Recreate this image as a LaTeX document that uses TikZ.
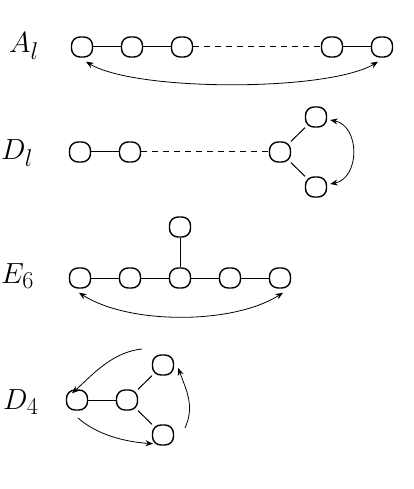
\documentclass[tikz,border=0pt]{standalone}
\usepackage{graphicx}
\usetikzlibrary{arrows.meta}
\newcommand{\biglab}[1]{\scalebox{1.17}{\fontsize{24.88}{28}\selectfont$#1$}}
\begin{document}
\begin{tikzpicture}[x=1pt,y=-1pt,
  dn/.style={draw,line width=1.4pt,rounded corners=8.5pt,minimum width=21pt,minimum height=20pt,inner sep=0pt,fill=white},
  ed/.style={line width=1pt},
  dsh/.style={line width=1pt,dash pattern=on 6pt off 5pt},
  arr/.style={line width=0.8pt,{Stealth[length=7.5pt,width=6pt]}-{Stealth[length=7.5pt,width=6pt]}},
  arrone/.style={line width=0.8pt,-{Stealth[length=7.5pt,width=6pt]}},
  lab/.style={anchor=base west,inner sep=0pt}]
\useasboundingbox (0,0) rectangle (414,489);
% A_l
\node[lab] (la) at (9,53) {\biglab{A_l}};
\node[dn] (a1) at (82,47) {};
\node[dn] (a2) at (132,47) {};
\node[dn] (a3) at (182,47) {};
\node[dn] (a4) at (332,47) {};
\node[dn] (a5) at (382,47) {};
\draw[ed] (a1) -- (a2);
\draw[ed] (a2) -- (a3);
\draw[dsh] (a3) -- (a4);
\draw[ed] (a4) -- (a5);
\draw[arr] ([xshift=4pt,yshift=-4pt]a1.south) .. controls +(50,30) and +(-50,30) .. ([xshift=-4pt,yshift=-4pt]a5.south);
% D_l
\node[lab] (ld) at (1,160) {\biglab{D_l}};
\node[dn] (d1) at (80,152) {};
\node[dn] (d2) at (130,152) {};
\node[dn] (d3) at (280,152) {};
\node[dn] (d4) at (316,117) {};
\node[dn] (d5) at (316,187) {};
\draw[ed] (d1) -- (d2);
\draw[dsh] (d2) -- (d3);
\draw[ed] (d3) -- (d4);
\draw[ed] (d3) -- (d5);
\draw[arr] ([xshift=3pt,yshift=-3pt]d4.east) .. controls +(30,6) and +(30,-6) .. ([xshift=3pt,yshift=3pt]d5.east);
% E_6
\node[lab] (le) at (1,283) {\biglab{E_6}};
\node[dn] (e1) at (80,278) {};
\node[dn] (e2) at (130,278) {};
\node[dn] (e3) at (180,278) {};
\node[dn] (e4) at (230,278) {};
\node[dn] (e5) at (280,278) {};
\node[dn] (e6) at (180,227) {};
\draw[ed] (e1) -- (e2);
\draw[ed] (e2) -- (e3);
\draw[ed] (e3) -- (e4);
\draw[ed] (e4) -- (e5);
\draw[ed] (e3) -- (e6);
\draw[arr] ([xshift=-1pt,yshift=-4pt]e1.south) .. controls +(50,32) and +(-50,32) .. ([xshift=3pt,yshift=-4pt]e5.south);
% D_4
\node[lab] (l4) at (3,409) {\biglab{D_4}};
\node[dn] (f1) at (77,400) {};
\node[dn] (f2) at (127,400) {};
\node[dn] (f3) at (163,365) {};
\node[dn] (f4) at (163,435) {};
\draw[ed] (f1) -- (f2);
\draw[ed] (f2) -- (f3);
\draw[ed] (f2) -- (f4);
\coordinate (s1) at (142,349);
\coordinate (s2) at (78,418);
\coordinate (s3) at (185,428);
\draw[arrone] (s1) .. controls +(-30,3) and +(20,-18) .. ([xshift=-5pt,yshift=-4pt]f1.north);
\draw[arrone] (s2) .. controls +(18,16) and +(-30,-2) .. ([xshift=-10pt,yshift=2pt]f4.south);
\draw[arrone] (s3) .. controls +(10,-22) and +(8,22) .. ([xshift=4pt,yshift=-3pt]f3.east);
\end{tikzpicture}
\end{document}
